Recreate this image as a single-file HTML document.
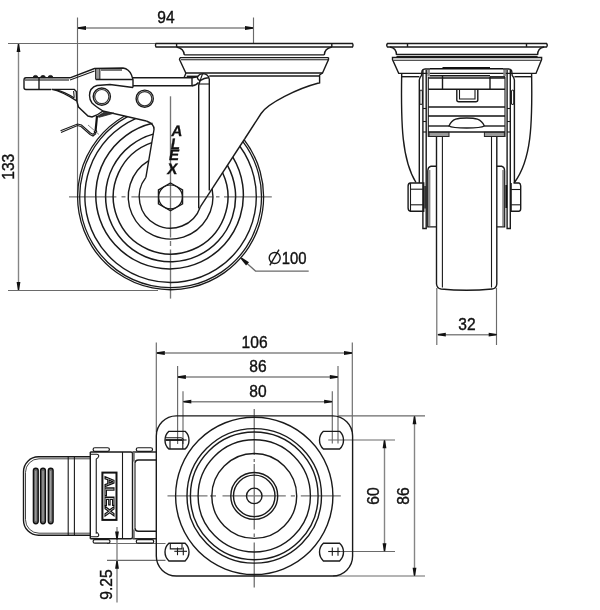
<!DOCTYPE html>
<html><head><meta charset="utf-8"><style>
html,body{margin:0;padding:0;background:#fff;width:600px;height:610px;overflow:hidden}
svg{display:block;will-change:transform}
</style></head><body>
<svg width="600" height="610" viewBox="0 0 600 610">
<line x1="77.5" y1="17.5" x2="77.5" y2="196" stroke="#6a6a6a" stroke-width="1.15" fill="none"/>
<line x1="253.5" y1="17.5" x2="253.5" y2="44" stroke="#6a6a6a" stroke-width="1.15" fill="none"/>
<line x1="78" y1="28" x2="253" y2="28" stroke="#858585" stroke-width="1.4" fill="none"/>
<line x1="8" y1="43.5" x2="160" y2="43.5" stroke="#6a6a6a" stroke-width="1.15" fill="none"/>
<line x1="8" y1="290.5" x2="158" y2="290.5" stroke="#6a6a6a" stroke-width="1.15" fill="none"/>
<line x1="18.5" y1="44" x2="18.5" y2="290" stroke="#858585" stroke-width="1.4" fill="none"/>
<line x1="69" y1="196.8" x2="116.4" y2="196.8" stroke="#767676" stroke-width="1.35" fill="none"/>
<line x1="121.5" y1="196.8" x2="125.5" y2="196.8" stroke="#767676" stroke-width="1.35" fill="none"/>
<line x1="131.4" y1="196.8" x2="213" y2="196.8" stroke="#767676" stroke-width="1.35" fill="none"/>
<line x1="216" y1="196.8" x2="219.5" y2="196.8" stroke="#767676" stroke-width="1.35" fill="none"/>
<line x1="224" y1="196.8" x2="271.8" y2="196.8" stroke="#767676" stroke-width="1.35" fill="none"/>
<line x1="170.5" y1="96.3" x2="170.5" y2="237.5" stroke="#767676" stroke-width="1.35" fill="none"/>
<line x1="170.5" y1="241" x2="170.5" y2="246" stroke="#767676" stroke-width="1.35" fill="none"/>
<line x1="170.5" y1="249.5" x2="170.5" y2="298.6" stroke="#767676" stroke-width="1.35" fill="none"/>
<line x1="436.8" y1="288" x2="436.8" y2="345" stroke="#6a6a6a" stroke-width="1.15" fill="none"/>
<line x1="496.5" y1="288" x2="496.5" y2="345" stroke="#6a6a6a" stroke-width="1.15" fill="none"/>
<line x1="438" y1="334.7" x2="496.5" y2="334.7" stroke="#858585" stroke-width="1.4" fill="none"/>
<line x1="167.5" y1="495.9" x2="207.5" y2="495.9" stroke="#767676" stroke-width="1.35" fill="none"/>
<line x1="210" y1="495.9" x2="216" y2="495.9" stroke="#767676" stroke-width="1.35" fill="none"/>
<line x1="222.5" y1="495.9" x2="285.8" y2="495.9" stroke="#767676" stroke-width="1.35" fill="none"/>
<line x1="290.8" y1="495.9" x2="295" y2="495.9" stroke="#767676" stroke-width="1.35" fill="none"/>
<line x1="300.8" y1="495.9" x2="340.8" y2="495.9" stroke="#767676" stroke-width="1.35" fill="none"/>
<line x1="254.25" y1="409" x2="254.25" y2="455" stroke="#767676" stroke-width="1.35" fill="none"/>
<line x1="254.25" y1="459" x2="254.25" y2="462" stroke="#767676" stroke-width="1.35" fill="none"/>
<line x1="254.25" y1="464" x2="254.25" y2="529.4" stroke="#767676" stroke-width="1.35" fill="none"/>
<line x1="254.25" y1="533.5" x2="254.25" y2="537" stroke="#767676" stroke-width="1.35" fill="none"/>
<line x1="254.25" y1="542.5" x2="254.25" y2="587.6" stroke="#767676" stroke-width="1.35" fill="none"/>
<line x1="156.3" y1="342.6" x2="156.3" y2="432" stroke="#6a6a6a" stroke-width="1.15" fill="none"/>
<line x1="352.3" y1="342.6" x2="352.3" y2="432" stroke="#6a6a6a" stroke-width="1.15" fill="none"/>
<line x1="157" y1="353" x2="352" y2="353" stroke="#858585" stroke-width="1.4" fill="none"/>
<line x1="177.6" y1="366" x2="177.6" y2="444" stroke="#6a6a6a" stroke-width="1.15" fill="none"/>
<line x1="338" y1="366" x2="338" y2="443.5" stroke="#6a6a6a" stroke-width="1.15" fill="none"/>
<line x1="178" y1="377" x2="338" y2="377" stroke="#858585" stroke-width="1.4" fill="none"/>
<line x1="183" y1="391.3" x2="183" y2="444" stroke="#6a6a6a" stroke-width="1.15" fill="none"/>
<line x1="332.3" y1="391.3" x2="332.3" y2="443.5" stroke="#6a6a6a" stroke-width="1.15" fill="none"/>
<line x1="183.5" y1="401.7" x2="332" y2="401.7" stroke="#858585" stroke-width="1.4" fill="none"/>
<line x1="328.2" y1="440" x2="395" y2="440" stroke="#6a6a6a" stroke-width="1.15" fill="none"/>
<line x1="340" y1="551.5" x2="395" y2="551.5" stroke="#6a6a6a" stroke-width="1.15" fill="none"/>
<line x1="384.5" y1="440.5" x2="384.5" y2="551" stroke="#858585" stroke-width="1.4" fill="none"/>
<line x1="338" y1="415.9" x2="425" y2="415.9" stroke="#6a6a6a" stroke-width="1.15" fill="none"/>
<line x1="333" y1="576" x2="425" y2="576" stroke="#6a6a6a" stroke-width="1.15" fill="none"/>
<line x1="414.5" y1="416.4" x2="414.5" y2="575.5" stroke="#858585" stroke-width="1.4" fill="none"/>
<line x1="107" y1="543.5" x2="165.5" y2="543.5" stroke="#6a6a6a" stroke-width="1.15" fill="none"/>
<line x1="107" y1="560.3" x2="165.5" y2="560.3" stroke="#6a6a6a" stroke-width="1.15" fill="none"/>
<line x1="117" y1="527" x2="117" y2="602.5" stroke="#858585" stroke-width="1.4" fill="none"/>
<path d="M78.00,27.35 L86.00,26.10 L86.00,29.90 L78.00,28.65 Z" fill="#111" stroke="none"/>
<path d="M253.00,28.65 L245.00,29.90 L245.00,26.10 L253.00,27.35 Z" fill="#111" stroke="none"/>
<text transform="translate(166,22.8) rotate(0) scale(0.9,1)" font-family="Liberation Sans, sans-serif" font-size="17.3" fill="#111" stroke="#111" stroke-width="0.4" text-anchor="middle">94</text>
<path d="M19.15,44.00 L20.40,52.00 L16.60,52.00 L17.85,44.00 Z" fill="#111" stroke="none"/>
<path d="M17.85,290.00 L16.60,282.00 L20.40,282.00 L19.15,290.00 Z" fill="#111" stroke="none"/>
<text transform="translate(14.3,166.7) rotate(-90) scale(0.9,1)" font-family="Liberation Sans, sans-serif" font-size="17.3" fill="#111" stroke="#111" stroke-width="0.4" text-anchor="middle">133</text>
<path d="M156,43.5 L352.5,43.5 Q353.5,45.3 352.5,47 L156,47 Q155,45.3 156,43.5 Z" stroke="#1a1a1a" stroke-width="1.4" fill="none"/>
<line x1="176.6" y1="43.5" x2="176.6" y2="47" stroke="#1a1a1a" stroke-width="1.4" fill="none"/>
<line x1="331.8" y1="43.5" x2="331.8" y2="47" stroke="#1a1a1a" stroke-width="1.4" fill="none"/>
<path d="M176.6,47 Q184,48.5 184.3,55" stroke="#1a1a1a" stroke-width="1.4" fill="none"/>
<path d="M331.8,47 Q324.5,48.5 324.3,55" stroke="#1a1a1a" stroke-width="1.4" fill="none"/>
<line x1="184.3" y1="54.9" x2="324.3" y2="54.9" stroke="#1a1a1a" stroke-width="1.4" fill="none"/>
<line x1="180" y1="57.6" x2="328.5" y2="57.6" stroke="#1a1a1a" stroke-width="1.4" fill="none"/>
<path d="M180,57.6 L179.5,59.5 L185.8,73 L322.5,73 L328.5,59.5 L328.5,57.6" stroke="#1a1a1a" stroke-width="1.4" fill="none"/>
<line x1="181" y1="59.8" x2="328" y2="59.8" stroke="#1a1a1a" stroke-width="1.1" fill="none"/>
<line x1="209.3" y1="76" x2="319.6" y2="76" stroke="#1a1a1a" stroke-width="1.4" fill="none"/>
<path d="M322.5,73 L319.6,75 L319.6,83 L317.8,83.3 C298,88.5 268,103 261.1,113.5 L244.6,139" stroke="#1a1a1a" stroke-width="1.4" fill="none"/>
<path d="M133,77.7 L192,77.7 L192,85.7 L133,85.7" stroke="#1a1a1a" stroke-width="1.4" fill="none"/>
<path d="M192,85.7 Q196,85.7 198.5,82.5" stroke="#1a1a1a" stroke-width="1.4" fill="none"/>
<line x1="186" y1="73" x2="184" y2="77.7" stroke="#1a1a1a" stroke-width="1.4" fill="none"/>
<line x1="186.7" y1="76.3" x2="198" y2="76.3" stroke="#1a1a1a" stroke-width="1.4" fill="none"/>
<path d="M198.7,208.5 L198.7,85" stroke="#1a1a1a" stroke-width="1.4" fill="none"/>
<path d="M209.3,190.4 L209.3,79.3 Q208.5,74 203,73.6 Q199,74 197.7,76.7 Q196.5,78.5 200,80.7 Q204,78 209.3,77.5" stroke="#1a1a1a" stroke-width="1.4" fill="none"/>
<line x1="200" y1="80.7" x2="202.5" y2="74" stroke="#1a1a1a" stroke-width="1.1" fill="none"/>
<path d="M192,77.7 Q196,77 197.7,76.7" stroke="#1a1a1a" stroke-width="1.4" fill="none"/>
<path d="M198.7,85 Q199.5,82.5 200,80.7" stroke="#1a1a1a" stroke-width="1.4" fill="none"/>
<line x1="198.7" y1="84" x2="209.3" y2="84" stroke="#1a1a1a" stroke-width="1.1" fill="none"/>
<path d="M170.5,183.0 L182.54,189.95 L182.54,203.85 L170.5,210.8 L158.46,203.85 L158.46,189.95 Z" stroke="#1a1a1a" stroke-width="1.4" fill="none"/>
<circle cx="170.5" cy="196.9" r="11.9" stroke="#1a1a1a" stroke-width="1.2" fill="none"/>
<path d="M212.14,188.78 A42.3,42.3 0 1 1 148.75,160.53" stroke="#1a1a1a" stroke-width="1.4" fill="none"/>
<path d="M222.61,172.72 A57.3,57.3 0 1 1 151.78,142.63" stroke="#1a1a1a" stroke-width="1.5" fill="none"/>
<path d="M227.47,165.27 A65,65 0 1 1 153.22,134.12" stroke="#1a1a1a" stroke-width="1.5" fill="none"/>
<path d="M232.82,157.07 A73.8,73.8 0 1 1 152.50,123.30" stroke="#1a1a1a" stroke-width="1.5" fill="none"/>
<path d="M239.86,146.28 A85.7,85.7 0 1 1 135.59,118.53" stroke="#1a1a1a" stroke-width="1.4" fill="none"/>
<path d="M242.88,141.64 A90.9,90.9 0 1 1 127.58,116.68" stroke="#1a1a1a" stroke-width="1.3" fill="none"/>
<path d="M244.10,139.77 A93,93 0 1 1 124.52,115.97" stroke="#1a1a1a" stroke-width="1.3" fill="none"/>
<path d="M200.30,206.94 A31.4,31.4 0 1 1 145.90,177.36" stroke="#1a1a1a" stroke-width="1.4" fill="none"/>
<path d="M146.3,121 Q154.5,124 154,129.5 L145.90,177.36" stroke="#1a1a1a" stroke-width="1.4" fill="none"/>
<path d="M244.6,139 L200.30,206.94" stroke="#1a1a1a" stroke-width="1.4" fill="none"/>
<path d="M70,77.8 L94.5,68.5 L123,68 Q129,69 131.5,75 L133,79.5 L133,87.5" stroke="#1a1a1a" stroke-width="1.4" fill="none"/>
<path d="M70,80 L94.5,71" stroke="#1a1a1a" stroke-width="1.1" fill="none"/>
<line x1="101" y1="70" x2="122" y2="70" stroke="#555" stroke-width="1.6"/>
<line x1="95.8" y1="69" x2="95.8" y2="79.5" stroke="#1a1a1a" stroke-width="1.4" fill="none"/>
<line x1="98" y1="69" x2="98" y2="79.5" stroke="#666" stroke-width="1.3"/>
<line x1="99.8" y1="69" x2="99.8" y2="79.5" stroke="#1a1a1a" stroke-width="1.1" fill="none"/>
<line x1="95.8" y1="79.5" x2="133" y2="79.5" stroke="#1a1a1a" stroke-width="1.4" fill="none"/>
<path d="M26,77.8 L70,77.8" stroke="#1a1a1a" stroke-width="1.4" fill="none"/>
<line x1="25" y1="80" x2="69" y2="80" stroke="#555" stroke-width="1.4"/>
<path d="M26,77.8 Q24,77.8 24,80 L24,87.5 Q24,89.5 26,89.5 L51,89.5" stroke="#1a1a1a" stroke-width="1.4" fill="none"/>
<line x1="39" y1="77.8" x2="39" y2="89.5" stroke="#1a1a1a" stroke-width="1.4" fill="none"/>
<path d="M33.1,77.6 A2.4,2.2 0 0 1 37.9,77.6 Z" stroke="#1a1a1a" stroke-width="0.8" fill="#1a1a1a"/>
<path d="M40.6,77.6 A2.4,2.2 0 0 1 45.4,77.6 Z" stroke="#1a1a1a" stroke-width="0.8" fill="#1a1a1a"/>
<path d="M48.1,77.6 A2.4,2.2 0 0 1 52.9,77.6 Z" stroke="#1a1a1a" stroke-width="0.8" fill="#1a1a1a"/>
<path d="M51.7,89.4 L74.3,89.4 L76.3,91.5 L76.6,100.5 L78.5,107 L88,116 L92,117 L97,115 L103,111 L146.3,121" stroke="#1a1a1a" stroke-width="1.4" fill="none"/>
<path d="M51.7,89.4 C58,90.5 66,94 76.3,100.7" stroke="#1a1a1a" stroke-width="1.4" fill="none"/>
<path d="M56.3,89.9 C62,91.2 68,94 74.3,98" stroke="#1a1a1a" stroke-width="1.1" fill="none"/>
<line x1="73.6" y1="91" x2="74.2" y2="97.5" stroke="#1a1a1a" stroke-width="1.1" fill="none"/>
<path d="M133,87.5 L110,84.5 L97,85.5 C92,87 89.5,91 89.5,95.5 C89.5,99 90.5,101 92,103 C95,106 98,108 103,111" stroke="#1a1a1a" stroke-width="1.4" fill="none"/>
<circle cx="101.8" cy="96.6" r="8.6" stroke="#1a1a1a" stroke-width="1.4" fill="none"/>
<circle cx="101.8" cy="96.6" r="7.1" stroke="#333" stroke-width="1.2" fill="none"/>
<circle cx="144.7" cy="98.7" r="8.6" stroke="#1a1a1a" stroke-width="1.4" fill="none"/>
<circle cx="144.7" cy="98.7" r="7.1" stroke="#333" stroke-width="1.2" fill="none"/>
<path d="M97.5,116.3 L104,112.3 L114,113.2 L99,117.3 Z" stroke="#222" stroke-width="0.8" fill="#333"/>
<path d="M97,116 L95.5,131.5" stroke="#111" stroke-width="2.2" fill="none"/>
<path d="M61,132.5 L77.5,125.5 L81,126.5 L90,134.5 L93,136 L96,133.5" stroke="#1a1a1a" stroke-width="1.1" fill="none"/>
<path d="M60.5,130.8 L77.5,124 L81.5,125 L90.5,133 L93,134.3 L95.5,132" stroke="#1a1a1a" stroke-width="1.1" fill="none"/>
<circle cx="95.5" cy="131.8" r="1.8" fill="#111" stroke="none"/>
<line x1="88" y1="125" x2="99" y2="134.5" stroke="#777" stroke-width="0.9"/>
<text transform="translate(176.3,136.2) skewX(-10)" font-family="Liberation Sans, sans-serif" font-size="15.2" font-weight="bold" fill="#111" stroke="#111" stroke-width="0.3" text-anchor="middle">A</text>
<text transform="translate(174.6,148.5) skewX(-10)" font-family="Liberation Sans, sans-serif" font-size="15.2" font-weight="bold" fill="#111" stroke="#111" stroke-width="0.3" text-anchor="middle">L</text>
<text transform="translate(173.4,160.3) skewX(-10)" font-family="Liberation Sans, sans-serif" font-size="15.2" font-weight="bold" fill="#111" stroke="#111" stroke-width="0.3" text-anchor="middle">E</text>
<text transform="translate(171.6,173.6) skewX(-10)" font-family="Liberation Sans, sans-serif" font-size="15.2" font-weight="bold" fill="#111" stroke="#111" stroke-width="0.3" text-anchor="middle">X</text>
<path d="M246,262.5 L255.5,271 L308.7,271" stroke="#6a6a6a" stroke-width="1.25" fill="none"/>
<path d="M241.73,257.60 L249.00,262.23 L246.07,265.51 L240.67,258.80 Z" fill="#111" stroke="none"/>
<circle cx="274.7" cy="258" r="5.5" stroke="#1a1a1a" stroke-width="1.4" fill="none"/>
<line x1="269.8" y1="265.4" x2="279" y2="249.6" stroke="#1a1a1a" stroke-width="1.4" fill="none"/>
<text transform="translate(294.2,263.7) rotate(0) scale(0.86,1)" font-family="Liberation Sans, sans-serif" font-size="17.3" fill="#111" stroke="#111" stroke-width="0.4" text-anchor="middle">100</text>
<path d="M387.5,43.5 L546.5,43.5 Q548,45.3 546.5,47 L387.5,47 Q386,45.3 387.5,43.5 Z" stroke="#1a1a1a" stroke-width="1.4" fill="none"/>
<line x1="407.5" y1="43.5" x2="407.5" y2="47" stroke="#1a1a1a" stroke-width="1.4" fill="none"/>
<line x1="526.5" y1="43.5" x2="526.5" y2="47" stroke="#1a1a1a" stroke-width="1.4" fill="none"/>
<path d="M390,47 Q396.5,48 396.5,55" stroke="#1a1a1a" stroke-width="1.4" fill="none"/>
<path d="M544.1,47 Q537.6,48 537.6,55" stroke="#1a1a1a" stroke-width="1.4" fill="none"/>
<line x1="396.5" y1="54.5" x2="537.6" y2="54.5" stroke="#1a1a1a" stroke-width="1.4" fill="none"/>
<line x1="396.5" y1="56.5" x2="537.6" y2="56.5" stroke="#1a1a1a" stroke-width="1.1" fill="none"/>
<path d="M392.5,57.5 L541.6,57.5 L541.6,59.5 L536,73.4 L398.7,73.4 L392.5,59.5 Z" stroke="#1a1a1a" stroke-width="1.4" fill="none"/>
<line x1="393.5" y1="60.2" x2="540.6" y2="60.2" stroke="#1a1a1a" stroke-width="1.1" fill="none"/>
<path d="M401.7,73.4 C400.8,125 402,160 416,182.5" stroke="#1a1a1a" stroke-width="1.4" fill="none"/>
<path d="M531.6,73.4 C532.5,125 531.3,160 514.4,182.5" stroke="#1a1a1a" stroke-width="1.4" fill="none"/>
<line x1="401.7" y1="76.7" x2="419.3" y2="76.7" stroke="#1a1a1a" stroke-width="1.4" fill="none"/>
<line x1="514.4" y1="76.7" x2="531.6" y2="76.7" stroke="#1a1a1a" stroke-width="1.4" fill="none"/>
<path d="M419.3,183 L419.3,80 Q419.8,77 421.5,75.5 L422,71 Q422.5,69 425,69 L430,69" stroke="#1a1a1a" stroke-width="1.4" fill="none"/>
<path d="M422.9,70 L422.9,228.5 L426.2,228.5 L426.2,70" stroke="#1a1a1a" stroke-width="1.4" fill="none"/>
<rect x="427.3" y="70" width="2.6" height="6.5" fill="#888"/>
<path d="M419.8,92 Q419.8,90 421,90 Q422.4,90 422.4,92 L422.4,103 Q422.4,104.5 421,104.5 Q419.8,104.5 419.8,103 Z" stroke="#1a1a1a" stroke-width="1.1" fill="none"/>
<line x1="423" y1="108.5" x2="426.2" y2="108.5" stroke="#1a1a1a" stroke-width="1.1" fill="none"/>
<line x1="423" y1="121.5" x2="426.2" y2="121.5" stroke="#1a1a1a" stroke-width="1.1" fill="none"/>
<line x1="423" y1="132" x2="426.2" y2="132" stroke="#1a1a1a" stroke-width="1.1" fill="none"/>
<line x1="428.3" y1="77" x2="428.3" y2="137" stroke="#1a1a1a" stroke-width="1.1" fill="none"/>
<path d="M514.4,183 L514.4,80 Q513.9,77 512.2,75.5 L511.7,71 Q511.2,69 508.7,69 L503,69" stroke="#1a1a1a" stroke-width="1.4" fill="none"/>
<path d="M510.3,70 L510.3,228.5 L507.1,228.5 L507.1,70" stroke="#1a1a1a" stroke-width="1.4" fill="none"/>
<rect x="503.3" y="70" width="2.6" height="6.5" fill="#888"/>
<path d="M511.4,92 Q511.4,90 512.6,90 Q513.8,90 513.8,92 L513.8,103 Q513.8,104.5 512.6,104.5 Q511.4,104.5 511.4,103 Z" stroke="#1a1a1a" stroke-width="1.1" fill="none"/>
<line x1="507.1" y1="108.5" x2="510.3" y2="108.5" stroke="#1a1a1a" stroke-width="1.1" fill="none"/>
<line x1="507.1" y1="121.5" x2="510.3" y2="121.5" stroke="#1a1a1a" stroke-width="1.1" fill="none"/>
<line x1="507.1" y1="132" x2="510.3" y2="132" stroke="#1a1a1a" stroke-width="1.1" fill="none"/>
<line x1="505" y1="77" x2="505" y2="137" stroke="#1a1a1a" stroke-width="1.1" fill="none"/>
<line x1="430" y1="68.8" x2="503" y2="68.8" stroke="#111" stroke-width="1.6"/>
<line x1="442.5" y1="67.8" x2="490" y2="67.8" stroke="#111" stroke-width="1.4"/>
<line x1="430" y1="75.8" x2="490" y2="75.8" stroke="#1a1a1a" stroke-width="1.4" fill="none"/>
<line x1="490" y1="76.8" x2="505" y2="76.8" stroke="#1a1a1a" stroke-width="1.4" fill="none"/>
<line x1="428.3" y1="78" x2="505" y2="78" stroke="#1a1a1a" stroke-width="1.4" fill="none"/>
<line x1="442.5" y1="75.8" x2="442.5" y2="89" stroke="#1a1a1a" stroke-width="1.4" fill="none"/>
<line x1="490" y1="76.8" x2="490" y2="89" stroke="#1a1a1a" stroke-width="1.4" fill="none"/>
<line x1="428.3" y1="89.2" x2="505" y2="89.2" stroke="#1a1a1a" stroke-width="1.4" fill="none"/>
<path d="M456.8,89.4 L456.8,100 Q456.8,101.7 458.8,101.7 L475.8,101.7 Q477.8,101.7 477.8,100 L477.8,89.4" stroke="#1a1a1a" stroke-width="1.4" fill="none"/>
<path d="M459.5,89.4 L459.5,99 L475,99 L475,89.4" stroke="#1a1a1a" stroke-width="1.1" fill="none"/>
<line x1="428.3" y1="107" x2="505" y2="107" stroke="#1a1a1a" stroke-width="1.4" fill="none"/>
<line x1="428.3" y1="116" x2="505" y2="116" stroke="#111" stroke-width="1.7"/>
<path d="M449,126 C452,118.5 458,118 466.7,118 C475,118 481,118.5 484.4,126 C481,128 475,128 466.7,128 C458,128 452,128 449,126 Z" stroke="#1a1a1a" stroke-width="1.4" fill="none"/>
<line x1="428.3" y1="126" x2="449" y2="126" stroke="#1a1a1a" stroke-width="1.4" fill="none"/>
<line x1="484.4" y1="126" x2="505" y2="126" stroke="#1a1a1a" stroke-width="1.4" fill="none"/>
<line x1="428.3" y1="132" x2="505" y2="132" stroke="#1a1a1a" stroke-width="1.4" fill="none"/>
<rect x="429" y="132.3" width="20" height="4.2" fill="#9a9a9a" stroke="#222" stroke-width="1"/>
<rect x="484.4" y="132.3" width="20" height="4.2" fill="#9a9a9a" stroke="#222" stroke-width="1"/>
<path d="M410.5,183 L423.7,183 L423.7,211.3 L410.5,211.3 Q408.1,211 408.1,208 L408.1,186 Q408.1,183.3 410.5,183 Z" stroke="#1a1a1a" stroke-width="1.4" fill="none"/>
<line x1="410.5" y1="183" x2="410.5" y2="211.3" stroke="#1a1a1a" stroke-width="1.1" fill="none"/>
<line x1="410.5" y1="189.2" x2="423.7" y2="189.2" stroke="#1a1a1a" stroke-width="1.1" fill="none"/>
<line x1="410.5" y1="204.8" x2="423.7" y2="204.8" stroke="#1a1a1a" stroke-width="1.1" fill="none"/>
<rect x="424.2" y="186" width="1.8" height="22.5" fill="#333"/>
<path d="M436,166.2 L431,166.2 Q427.8,167 427.8,171 L427.8,226.9 L436,226.9" stroke="#1a1a1a" stroke-width="1.4" fill="none"/>
<rect x="428.4" y="170" width="2" height="56" fill="#8a8a8a"/>
<path d="M513.5,183 L519,183 Q520.7,183.5 520.7,186 L520.7,208.5 Q520.7,211 519,211.3 L511.1,211.3 L511.1,183" stroke="#1a1a1a" stroke-width="1.4" fill="none"/>
<line x1="511.1" y1="189.5" x2="520.7" y2="189.5" stroke="#1a1a1a" stroke-width="1.1" fill="none"/>
<line x1="511.1" y1="204.8" x2="520.7" y2="204.8" stroke="#1a1a1a" stroke-width="1.1" fill="none"/>
<rect x="505.4" y="185" width="1.8" height="23" fill="#111"/>
<path d="M496.8,166.2 L501.6,166.2 Q504.6,167 504.6,171 L504.6,226.9 L496.8,226.9" stroke="#1a1a1a" stroke-width="1.4" fill="none"/>
<rect x="502.2" y="170" width="2" height="56" fill="#8a8a8a"/>
<path d="M436.5,137 L436.5,284 Q437,288.5 441,289 Q466.6,291.5 492.2,289 Q496.5,288.5 496.8,284 L496.8,137" stroke="#1a1a1a" stroke-width="1.4" fill="none"/>
<line x1="442.4" y1="137" x2="442.4" y2="287.5" stroke="#1a1a1a" stroke-width="1.1" fill="none"/>
<line x1="491.5" y1="137" x2="491.5" y2="287.5" stroke="#1a1a1a" stroke-width="1.1" fill="none"/>
<path d="M437.80,334.05 L445.80,332.80 L445.80,336.60 L437.80,335.35 Z" fill="#111" stroke="none"/>
<path d="M496.70,335.35 L488.70,336.60 L488.70,332.80 L496.70,334.05 Z" fill="#111" stroke="none"/>
<text transform="translate(467,329.6) rotate(0) scale(0.9,1)" font-family="Liberation Sans, sans-serif" font-size="17.3" fill="#111" stroke="#111" stroke-width="0.4" text-anchor="middle">32</text>
<path d="M176.3,415.9 L332.6,415.9 A20,20 0 0 1 352.6,435.9 L352.6,556 A20,20 0 0 1 332.6,576 L176.3,576 A20,20 0 0 1 156.3,556 L156.3,435.9 A20,20 0 0 1 176.3,415.9 Z" stroke="#1a1a1a" stroke-width="1.4" fill="none"/>
<circle cx="254.25" cy="495.9" r="78.65" stroke="#1a1a1a" stroke-width="1.4" fill="none"/>
<circle cx="254.25" cy="495.9" r="67.25" stroke="#1a1a1a" stroke-width="1.4" fill="none"/>
<circle cx="254.25" cy="495.9" r="63.85" stroke="#1a1a1a" stroke-width="1.4" fill="none"/>
<circle cx="254.25" cy="495.9" r="56.15" stroke="#1a1a1a" stroke-width="1.4" fill="none"/>
<circle cx="254.25" cy="495.9" r="42.45" stroke="#1a1a1a" stroke-width="1.4" fill="none"/>
<circle cx="254.25" cy="495.9" r="23.45" stroke="#1a1a1a" stroke-width="1.4" fill="none"/>
<circle cx="254.25" cy="495.9" r="20.75" stroke="#1a1a1a" stroke-width="1.4" fill="none"/>
<circle cx="254.25" cy="495.9" r="7.75" stroke="#1a1a1a" stroke-width="1.4" fill="none"/>
<path d="M168.90,431.34999999999997 L185.10,431.34999999999997 A12,12 0 0 1 185.10,449.05 L168.90,449.05 A12,12 0 0 1 168.90,431.34999999999997 Z" stroke="#1a1a1a" stroke-width="1.4" fill="none"/>
<path d="M323.40,431.34999999999997 L339.60,431.34999999999997 A12,12 0 0 1 339.60,449.05 L323.40,449.05 A12,12 0 0 1 323.40,431.34999999999997 Z" stroke="#1a1a1a" stroke-width="1.4" fill="none"/>
<path d="M168.90,543.25 L185.10,543.25 A12,12 0 0 1 185.10,560.95 L168.90,560.95 A12,12 0 0 1 168.90,543.25 Z" stroke="#1a1a1a" stroke-width="1.4" fill="none"/>
<path d="M323.40,543.25 L339.60,543.25 A12,12 0 0 1 339.60,560.95 L323.40,560.95 A12,12 0 0 1 323.40,543.25 Z" stroke="#1a1a1a" stroke-width="1.4" fill="none"/>
<line x1="165.5" y1="440" x2="182" y2="440" stroke="#111" stroke-width="1.8"/>
<path d="M165.5,437.7 L181,437.7 Q183,438 183.5,440" stroke="#1a1a1a" stroke-width="1.1" fill="none"/>
<line x1="170" y1="440" x2="170" y2="449" stroke="#1a1a1a" stroke-width="1.1" fill="none"/>
<line x1="182.8" y1="440" x2="182.8" y2="449" stroke="#1a1a1a" stroke-width="1.1" fill="none"/>
<line x1="182" y1="440" x2="186.6" y2="440" stroke="#1a1a1a" stroke-width="1.1" fill="none"/>
<path d="M170.3,543.5 L170.3,548.9 L182,548.9 L182,543.5" stroke="#1a1a1a" stroke-width="1.1" fill="none"/>
<line x1="174.3" y1="551.3" x2="187" y2="551.3" stroke="#1a1a1a" stroke-width="1.1" fill="none"/>
<line x1="177.5" y1="547.5" x2="177.5" y2="555.2" stroke="#1a1a1a" stroke-width="1.1" fill="none"/>
<line x1="183.3" y1="547.5" x2="183.3" y2="555.2" stroke="#1a1a1a" stroke-width="1.1" fill="none"/>
<line x1="328.2" y1="551.5" x2="340" y2="551.5" stroke="#1a1a1a" stroke-width="1.1" fill="none"/>
<line x1="332.3" y1="547.4" x2="332.3" y2="555.7" stroke="#1a1a1a" stroke-width="1.1" fill="none"/>
<line x1="338" y1="547.4" x2="338" y2="555.7" stroke="#1a1a1a" stroke-width="1.1" fill="none"/>
<path d="M156.80,352.35 L164.80,351.10 L164.80,354.90 L156.80,353.65 Z" fill="#111" stroke="none"/>
<path d="M352.00,353.65 L344.00,354.90 L344.00,351.10 L352.00,352.35 Z" fill="#111" stroke="none"/>
<text transform="translate(254.6,348.1) rotate(0) scale(0.9,1)" font-family="Liberation Sans, sans-serif" font-size="17.3" fill="#111" stroke="#111" stroke-width="0.4" text-anchor="middle">106</text>
<path d="M177.90,376.35 L185.90,375.10 L185.90,378.90 L177.90,377.65 Z" fill="#111" stroke="none"/>
<path d="M337.80,377.65 L329.80,378.90 L329.80,375.10 L337.80,376.35 Z" fill="#111" stroke="none"/>
<text transform="translate(257.9,371.9) rotate(0) scale(0.9,1)" font-family="Liberation Sans, sans-serif" font-size="17.3" fill="#111" stroke="#111" stroke-width="0.4" text-anchor="middle">86</text>
<path d="M183.30,401.05 L191.30,399.80 L191.30,403.60 L183.30,402.35 Z" fill="#111" stroke="none"/>
<path d="M332.10,402.35 L324.10,403.60 L324.10,399.80 L332.10,401.05 Z" fill="#111" stroke="none"/>
<text transform="translate(257.9,396.5) rotate(0) scale(0.9,1)" font-family="Liberation Sans, sans-serif" font-size="17.3" fill="#111" stroke="#111" stroke-width="0.4" text-anchor="middle">80</text>
<path d="M385.15,440.30 L386.40,448.30 L382.60,448.30 L383.85,440.30 Z" fill="#111" stroke="none"/>
<path d="M383.85,551.30 L382.60,543.30 L386.40,543.30 L385.15,551.30 Z" fill="#111" stroke="none"/>
<text transform="translate(379.3,496) rotate(-90) scale(0.9,1)" font-family="Liberation Sans, sans-serif" font-size="17.3" fill="#111" stroke="#111" stroke-width="0.4" text-anchor="middle">60</text>
<path d="M415.15,416.20 L416.40,424.20 L412.60,424.20 L413.85,416.20 Z" fill="#111" stroke="none"/>
<path d="M413.85,575.70 L412.60,567.70 L416.40,567.70 L415.15,575.70 Z" fill="#111" stroke="none"/>
<text transform="translate(409,496) rotate(-90) scale(0.9,1)" font-family="Liberation Sans, sans-serif" font-size="17.3" fill="#111" stroke="#111" stroke-width="0.4" text-anchor="middle">86</text>
<path d="M90.3,456.8 L38.5,456.8 A15,15 0 0 0 23.5,471.8 L23.5,520.2 A15,15 0 0 0 38.5,535.2 L90.3,535.2" stroke="#1a1a1a" stroke-width="1.4" fill="none"/>
<path d="M90.3,458.8 L39,458.8 A13.5,13.5 0 0 0 25.5,472.3 L25.5,519.7 A13.5,13.5 0 0 0 39,533.2 L90.3,533.2" stroke="#444" stroke-width="1" fill="none"/>
<line x1="68.2" y1="456.5" x2="68.2" y2="535.2" stroke="#1a1a1a" stroke-width="1.1" fill="none"/>
<line x1="74.4" y1="456.5" x2="74.4" y2="535.2" stroke="#1a1a1a" stroke-width="1.1" fill="none"/>
<rect x="33.4" y="468.2" width="4.8" height="55.5" rx="2.4" stroke="#111" stroke-width="1.4" fill="#6a6a6a"/>
<line x1="35.8" y1="471" x2="35.8" y2="521" stroke="#aaa" stroke-width="1"/>
<rect x="40.6" y="468.2" width="4.8" height="55.5" rx="2.4" stroke="#111" stroke-width="1.4" fill="#6a6a6a"/>
<line x1="43" y1="471" x2="43" y2="521" stroke="#aaa" stroke-width="1"/>
<rect x="48.300000000000004" y="468.2" width="4.8" height="55.5" rx="2.4" stroke="#111" stroke-width="1.4" fill="#6a6a6a"/>
<line x1="50.7" y1="471" x2="50.7" y2="521" stroke="#aaa" stroke-width="1"/>
<line x1="90.3" y1="452" x2="90.3" y2="538.75" stroke="#1a1a1a" stroke-width="1.4" fill="none"/>
<line x1="96.25" y1="458.75" x2="96.25" y2="533.75" stroke="#1a1a1a" stroke-width="1.1" fill="none"/>
<path d="M90.3,454.3 L97,454.2 Q99.2,454.6 98.6,456.6 Q97.8,458.6 96.25,458.75" stroke="#1a1a1a" stroke-width="1.1" fill="none"/>
<path d="M90.3,536.7 L97,536.8 Q99.2,536.4 98.6,534.4 Q97.8,532.4 96.25,532.25" stroke="#1a1a1a" stroke-width="1.1" fill="none"/>
<path d="M90.3,452 L131,452 Q132.5,452.3 132.5,453.5 L132.5,537.3 Q132.5,538.5 131,538.75 L90.3,538.75" stroke="#1a1a1a" stroke-width="1.4" fill="none"/>
<line x1="122.5" y1="452" x2="122.5" y2="538.75" stroke="#1a1a1a" stroke-width="1.1" fill="none"/>
<line x1="132.5" y1="452" x2="156.3" y2="452" stroke="#1a1a1a" stroke-width="1.4" fill="none"/>
<line x1="132.5" y1="538.75" x2="156.3" y2="538.75" stroke="#1a1a1a" stroke-width="1.4" fill="none"/>
<path d="M135,463.5 Q135,460 138.5,460 L156.3,460 M135,527.75 Q135,531.25 138.5,531.25 L156.3,531.25" stroke="#1a1a1a" stroke-width="1.4" fill="none"/>
<line x1="135" y1="463.5" x2="135" y2="527.75" stroke="#1a1a1a" stroke-width="1.1" fill="none"/>
<rect x="132.8" y="452.5" width="2" height="9" fill="#777"/>
<rect x="132.8" y="529.5" width="2" height="9" fill="#777"/>
<rect x="93.1" y="447.75" width="16.3" height="3.6" rx="1.8" stroke="#1a1a1a" stroke-width="1.2" fill="none"/>
<rect x="136.25" y="447.75" width="16.3" height="3.6" rx="1.8" stroke="#1a1a1a" stroke-width="1.2" fill="none"/>
<rect x="93.1" y="539.6" width="16.9" height="3.6" rx="1.8" stroke="#1a1a1a" stroke-width="1.2" fill="none"/>
<rect x="136.25" y="539.6" width="17.5" height="3.6" rx="1.8" stroke="#1a1a1a" stroke-width="1.2" fill="none"/>
<rect x="102.4" y="472.6" width="14.1" height="47.3" stroke="#111" stroke-width="2" fill="none"/>
<text transform="translate(105.4,476.2) rotate(90)" font-family="Liberation Sans, sans-serif" font-size="12" font-weight="bold" fill="#fff" stroke="#111" stroke-width="1.1" textLength="40" lengthAdjust="spacingAndGlyphs">ALEX</text>
<path d="M116.35,539.50 L115.10,531.50 L118.90,531.50 L117.65,539.50 Z" fill="#111" stroke="none"/>
<path d="M117.65,560.80 L118.90,568.80 L115.10,568.80 L116.35,560.80 Z" fill="#111" stroke="none"/>
<text transform="translate(111.5,584.5) rotate(-90) scale(0.9,1)" font-family="Liberation Sans, sans-serif" font-size="17.3" fill="#111" stroke="#111" stroke-width="0.4" text-anchor="middle">9.25</text>
</svg>
</body></html>
